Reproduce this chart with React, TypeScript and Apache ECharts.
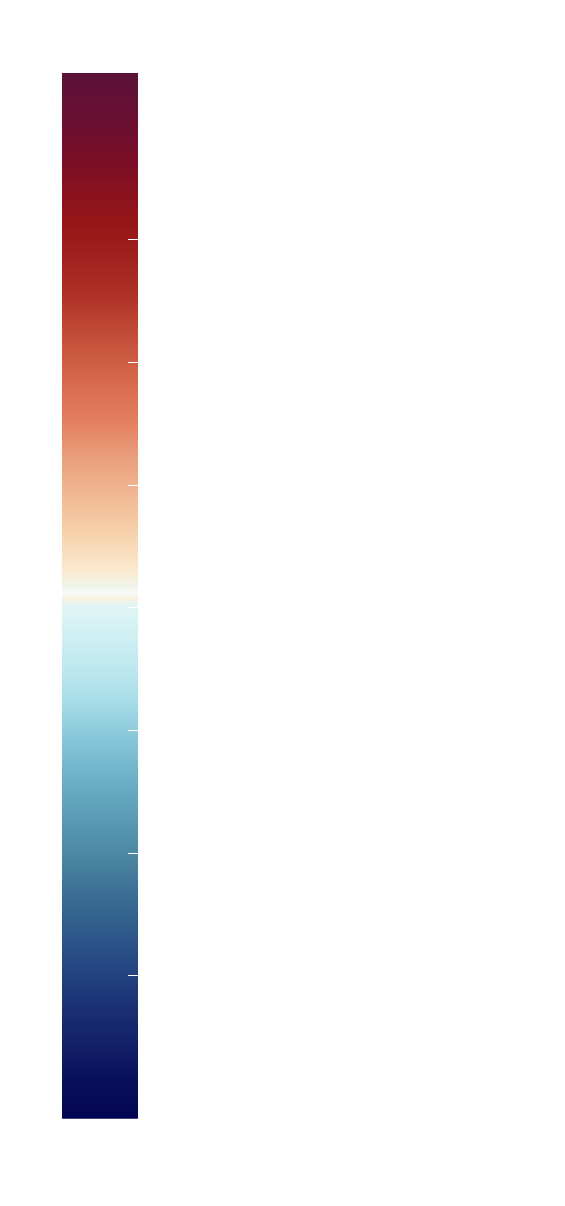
import React, { useEffect, useRef } from "react";
import * as echarts from "echarts";

// Colour bar value range and tick positions (no labels shown in the reference)
const rangeMin = -4.167;
const rangeMax = 4.362;
const tickValues = [-3, -2, -1, 0, 1, 2, 3];

// Colour scale, top (offset 0) to bottom (offset 1)
const stopOffsets = [
  0, 0.0545, 0.0928, 0.1454, 0.1788, 0.2171, 0.2553, 0.2888, 0.3318, 0.3701,
  0.4083, 0.437, 0.4753, 0.4925, 0.4973, 0.5021, 0.5088, 0.5231, 0.5613, 0.5996,
  0.6378, 0.6761, 0.7144, 0.7526, 0.7909, 0.8291, 0.8626, 0.8961, 0.9343, 0.963, 1,
];
const stopColors = [
  "#5b1238", "#6d0e30", "#7f0f24", "#971618", "#a1221e", "#b03528", "#c4503a",
  "#d5654b", "#e27e60", "#eaa07c", "#f1bc96", "#f5cfa8", "#fbe9cf", "#f0f5ec",
  "#f7fcfb", "#faf1e0", "#e2f5f5", "#d8f3f5", "#c3eaf0", "#a8dde8", "#86c6d8",
  "#6cafc6", "#5a9ab4", "#4a84a1", "#386b92", "#2b5588", "#22427f", "#1a2f72",
  "#111e66", "#08105c", "#020553",
];

export default function App() {
  const ref = useRef<HTMLDivElement>(null);
  useEffect(() => {
    if (!ref.current) return;
    const chart = echarts.init(ref.current, null, { renderer: "svg" });
    const colorStops = stopOffsets.map((o, i) => ({ offset: o, color: stopColors[i] }));
    chart.setOption({
      animation: false,
      backgroundColor: "#ffffff",
      grid: { left: 62, right: 427, top: 73, bottom: 87.3 },
      xAxis: { type: "value", min: 0, max: 1, show: false },
      yAxis: {
        type: "value",
        min: rangeMin,
        max: rangeMax,
        show: false,
      },
      series: [
        {
          type: "custom",
          z: 2,
          data: [[0, rangeMin, rangeMax]],
          encode: { x: 0, y: [1, 2] },
          renderItem: (params: any, api: any) => {
            const cs = params.coordSys;
            const yTop = api.coord([0, api.value(2)])[1];
            const yBot = api.coord([0, api.value(1)])[1];
            return {
              type: "rect",
              shape: { x: cs.x, y: yTop, width: cs.width, height: yBot - yTop },
              style: {
                fill: {
                  type: "linear",
                  x: 0,
                  y: 0,
                  x2: 0,
                  y2: 1,
                  colorStops,
                },
              },
            };
          },
        },
        {
          type: "custom",
          z: 5,
          data: tickValues.map((v) => [1, v]),
          encode: { x: 0, y: 1 },
          renderItem: (params: any, api: any) => {
            const cs = params.coordSys;
            const y = Math.floor(api.coord([1, api.value(1)])[1]) + 0.5;
            const xr = cs.x + cs.width;
            return {
              type: "line",
              shape: { x1: xr - 10, y1: y, x2: xr, y2: y },
              style: { stroke: "#ffffff", lineWidth: 1 },
            };
          },
        },
      ],
    });
    return () => chart.dispose();
  }, []);
  return (
    <div
      ref={ref}
      style={{ position: "absolute", left: 0, top: 0, width: 565, height: 1206 }}
    />
  );
}
